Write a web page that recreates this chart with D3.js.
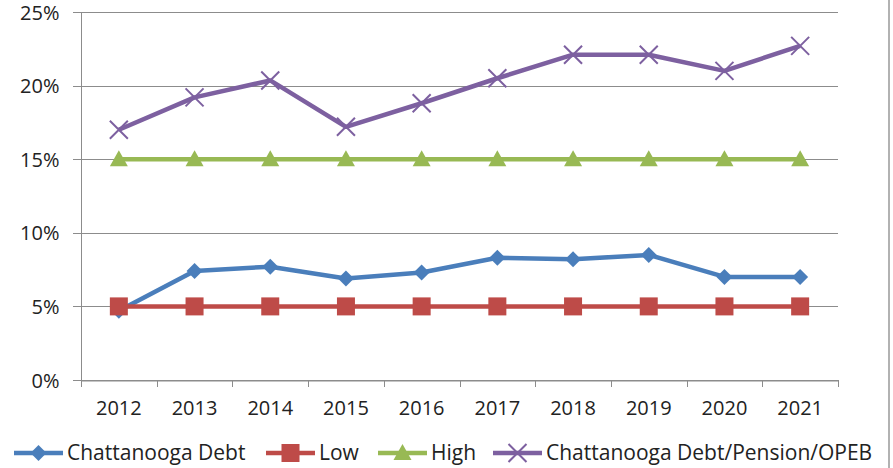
<!DOCTYPE html>
<html lang="en">
<head>
    <meta charset="UTF-8">
    <title>Chattanooga Debt</title>
    <script src="https://cdn.jsdelivr.net/npm/d3@7"></script>
    <style>
        body { margin: 0; background: #fff; }
        text { font-family: "Open Sans", "Noto Sans", sans-serif; fill: #222; }
    </style>
</head>
<body>
<svg width="893" height="468"></svg>
<script>
    var years = ["2012", "2013", "2014", "2015", "2016", "2017", "2018", "2019", "2020", "2021"];
    var debt = [4.7, 7.4, 7.7, 6.9, 7.3, 8.3, 8.2, 8.5, 7.0, 7.0];
    var low = [5, 5, 5, 5, 5, 5, 5, 5, 5, 5];
    var high = [15, 15, 15, 15, 15, 15, 15, 15, 15, 15];
    var pension = [17.0, 19.2, 20.35, 17.2, 18.8, 20.5, 22.1, 22.1, 21.0, 22.7];
    var yTicks = [0, 5, 10, 15, 20, 25];

    var series = [
        {name: "Chattanooga Debt", values: debt, color: "#4a7ebb", marker: "diamond"},
        {name: "Low", values: low, color: "#be4b48", marker: "square"},
        {name: "High", values: high, color: "#98b954", marker: "triangle"},
        {name: "Chattanooga Debt/Pension/OPEB", values: pension, color: "#7d60a0", marker: "cross"}
    ];

    var svg = d3.select("svg");
    var pLeft = 81, pRight = 838, pTop = 12, pBottom = 380;

    var x = d3.scaleBand().domain(years).range([pLeft, pRight]);
    var y = d3.scaleLinear().domain([0, 25]).range([pBottom, pTop]);

    // right border of the chart area
    svg.append("line")
        .attr("x1", 889).attr("x2", 889).attr("y1", 0).attr("y2", 468)
        .attr("stroke", "#999").attr("stroke-width", 1.5);

    // gridlines
    svg.selectAll(".grid").data(yTicks).enter().append("line")
        .attr("x1", pLeft - 8).attr("x2", pRight)
        .attr("y1", function (d) { return Math.round(y(d)) + 0.5; })
        .attr("y2", function (d) { return Math.round(y(d)) + 0.5; })
        .attr("stroke", "#8c8c8c").attr("stroke-width", 1);

    var yAxis = svg.append("g").attr("transform", "translate(" + (pLeft + 0.5) + ",0)")
        .call(d3.axisLeft(y).tickValues(yTicks).tickSize(0).tickFormat(function (d) { return d + "%"; }));
    yAxis.select(".domain").attr("stroke", "#8c8c8c").attr("d", "M0," + pTop + "V" + pBottom);
    yAxis.selectAll("text").attr("font-size", 20).attr("x", -22).attr("dy", "0.35em");

    var xAxis = svg.append("g").attr("transform", "translate(0," + (pBottom + 0.5) + ")")
        .call(d3.axisBottom(x).tickSize(0).tickPadding(20));
    xAxis.select(".domain").attr("stroke", "#8c8c8c");
    xAxis.selectAll("text").attr("font-size", 20);
    // category boundary ticks
    svg.selectAll(".xt").data(d3.range(years.length + 1)).enter().append("line")
        .attr("x1", function (i) { return Math.round(pLeft + x.step() * i) + 0.5; })
        .attr("x2", function (i) { return Math.round(pLeft + x.step() * i) + 0.5; })
        .attr("y1", pBottom).attr("y2", pBottom + 7)
        .attr("stroke", "#8c8c8c");

    function cx(i) { return x(years[i]) + x.bandwidth() / 2; }

    function drawMarker(g, type, color, px, py) {
        if (type === "diamond") {
            g.append("path").attr("d", "M" + px + "," + (py - 8) + "L" + (px + 8) + "," + py + "L" + px + "," + (py + 8) + "L" + (px - 8) + "," + py + "Z")
                .attr("fill", color);
        } else if (type === "square") {
            g.append("rect").attr("x", px - 9).attr("y", py - 9).attr("width", 18).attr("height", 18)
                .attr("fill", color);
        } else if (type === "triangle") {
            g.append("path").attr("d", "M" + px + "," + (py - 9) + "L" + (px + 9) + "," + (py + 7) + "L" + (px - 9) + "," + (py + 7) + "Z")
                .attr("fill", color);
        } else {
            g.append("path").attr("d", "M" + (px - 9) + "," + (py - 9) + "L" + (px + 9) + "," + (py + 9) + "M" + (px + 9) + "," + (py - 9) + "L" + (px - 9) + "," + (py + 9))
                .attr("stroke", color).attr("stroke-width", 2).attr("fill", "none");
        }
    }

    var line = d3.line()
        .x(function (d, i) { return cx(i); })
        .y(function (d) { return y(d); });

    series.forEach(function (s) {
        var g = svg.append("g");
        g.append("path").datum(s.values).attr("d", line)
            .attr("fill", "none").attr("stroke", s.color).attr("stroke-width", 4.5)
            .attr("stroke-linejoin", "round");
        s.values.forEach(function (v, i) {
            drawMarker(g, s.marker, s.color, cx(i), y(v));
        });
    });

    // legend
    var legendX = [14, 266, 378, 493];
    var legendY = 453;
    series.forEach(function (s, i) {
        var g = svg.append("g");
        var lx = legendX[i];
        g.append("line").attr("x1", lx).attr("x2", lx + 49).attr("y1", legendY).attr("y2", legendY)
            .attr("stroke", s.color).attr("stroke-width", 4.5);
        drawMarker(g, s.marker, s.color, lx + 24.5, legendY);
        g.append("text").attr("x", lx + 53).attr("y", legendY).attr("dy", "0.35em")
            .attr("font-size", 21).text(s.name);
    });
</script>
</body>
</html>
